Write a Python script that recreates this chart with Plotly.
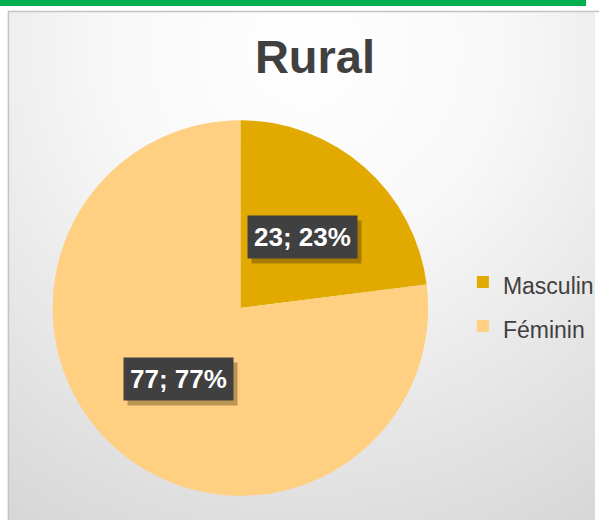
import math
import urllib.parse
import plotly.graph_objects as go

# Data
labels = ["Masculin", "Féminin"]
values = [23, 77]
colors = ["#E2A900", "#FFCF82"]
title_text = "Rural"

W, H = 599, 520
# pie geometry (pixels)
cx, cy, R = 242, 308, 189

fig = go.Figure()
fig.add_trace(go.Pie(
    labels=[f"<span style='font-size:23px'>{l}</span>" for l in labels],
    values=values, sort=False, direction="clockwise", rotation=0,
    marker=dict(colors=colors, line=dict(width=0)),
    textinfo="none", hoverinfo="label+value+percent",
    domain=dict(x=[(cx - R) / W, (cx + R) / W], y=[1 - (cy + R) / H, 1 - (cy - R) / H]),
    showlegend=True,
))

# data labels computed from values
total = sum(values)
annotations = []
cum = 0
for lab, v in zip(labels, values):
    mid = (cum + v / 2) / total * 2 * math.pi
    cum += v
    r = 0.5 * R
    px = cx + r * math.sin(mid)
    py = cy - r * math.cos(mid)
    txt = f"<b>{v}; {round(v / total * 100)}%</b>"
    # shadow
    annotations.append(dict(
        x=px / W, y=1 - py / H, xref="paper", yref="paper", text=txt, showarrow=False,
        xanchor="center", yanchor="middle",
        font=dict(family="Liberation Sans, Arial", size=26, color="rgba(0,0,0,0)"),
        bgcolor="rgba(60,40,0,0.35)", borderpad=6, xshift=4, yshift=-5,
    ))
    annotations.append(dict(
        x=px / W, y=1 - py / H, xref="paper", yref="paper", text=txt, showarrow=False,
        xanchor="center", yanchor="middle",
        font=dict(family="Liberation Sans, Arial", size=26, color="white"),
        bgcolor="#404040", borderpad=6,
    ))

svg = (
    "<svg xmlns='http://www.w3.org/2000/svg' width='591' height='509' viewBox='0 0 591 509' preserveAspectRatio='none'>"
    "<defs><radialGradient id='g' cx='300' cy='40' r='560' gradientUnits='userSpaceOnUse'>"
    "<stop offset='0' stop-color='#ffffff'/><stop offset='0.35' stop-color='#f8f8f8'/>"
    "<stop offset='1' stop-color='#d6d6d6'/></radialGradient></defs>"
    "<rect width='591' height='509' fill='url(#g)'/></svg>"
)
src = "data:image/svg+xml;charset=utf-8," + urllib.parse.quote(svg)

fig.update_layout(
    width=W, height=H,
    margin=dict(l=0, r=0, t=0, b=0),
    paper_bgcolor="white",
    title=dict(text=f"<b>{title_text}</b>", x=315 / W, y=1 - 57 / H, xanchor="center", yanchor="middle",
               font=dict(family="Liberation Sans, Arial", size=47, color="#404040")),
    legend=dict(x=466 / W, y=1 - 255 / H, xanchor="left", yanchor="top",
                font=dict(family="Liberation Sans, Arial", size=31.5, color="#404040"),
                bgcolor="rgba(0,0,0,0)"),
    images=[dict(source=src, xref="paper", yref="paper", x=8 / W, y=1 - 11 / H,
                 sizex=(W - 8) / W, sizey=(H - 11) / H, xanchor="left", yanchor="top",
                 sizing="stretch", layer="below")],
    shapes=[
        dict(type="rect", xref="paper", yref="paper", x0=0, x1=590 / W, y0=1 - 6 / H, y1=1,
             fillcolor="#00B050", line=dict(width=0), layer="above"),
        dict(type="rect", xref="paper", yref="paper", x0=8.5 / W, x1=1.02, y0=-0.02, y1=1 - 11.5 / H,
             fillcolor="rgba(0,0,0,0)", line=dict(color="#c4c4c4", width=1.5), layer="above"),
    ],
    annotations=annotations,
)

fig.write_html("out.html", config={"displayModeBar": False},
               post_script="document.body.style.margin='0';document.body.style.overflow='hidden';")
